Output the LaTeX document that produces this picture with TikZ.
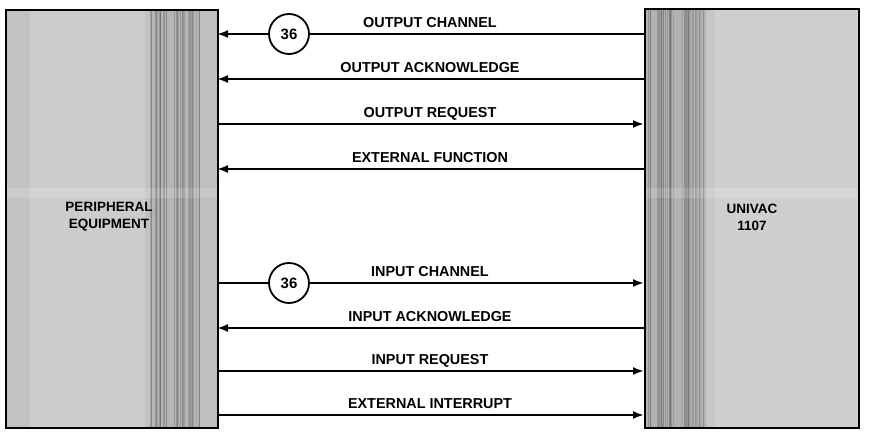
\documentclass[tikz,border=0pt]{standalone}
\usepackage{fontspec}
\setmainfont{Liberation Sans}
\usetikzlibrary{arrows.meta}
\begin{document}
\begin{tikzpicture}[x=1pt,y=-1pt,
  sig/.style={line width=2.6pt,-{Latex[length=11pt,width=8pt]}},
  plain/.style={line width=2.6pt},
  lbl/.style={font=\bfseries\fontsize{14.4}{15}\selectfont,anchor=base},
  tag/.style={circle,draw=black,line width=1.8pt,fill=white,minimum size=40pt,inner sep=0pt,font=\bfseries\fontsize{15}{16}\selectfont},
  boxtext/.style={font=\bfseries\fontsize{13.5}{17}\selectfont,align=center}]
\useasboundingbox (0,0) rectangle (870,438);
\pgfmathsetseed{17}
% left box shading
\fill[gray!48] (5,9) rectangle (217,427);
\fill[gray!40] (30,9) rectangle (145,427);
\fill[gray!58] (150,9) rectangle (200,427);
\fill[gray!50] (200,9) rectangle (217,427);
\foreach \i in {1,...,40}{
  \pgfmathsetmacro{\xx}{150+50*rnd}
  \pgfmathsetmacro{\gg}{50+25*rnd}
  \fill[black!\gg!white,opacity=0.3] (\xx,9) rectangle ++(1,418);
}
\fill[white,opacity=0.15] (5,188) rectangle (217,198);
% right box shading
\fill[gray!44] (644,8) rectangle (858,427);
\fill[gray!60] (646,8) rectangle (706,427);
\fill[gray!38] (715,8) rectangle (858,427);
\foreach \i in {1,...,40}{
  \pgfmathsetmacro{\xx}{646+60*rnd}
  \pgfmathsetmacro{\gg}{50+25*rnd}
  \fill[black!\gg!white,opacity=0.3] (\xx,8) rectangle ++(1,419);
}
\fill[white,opacity=0.15] (644,188) rectangle (858,198);
\node[draw=black,line width=2pt,minimum width=212pt,minimum height=418pt,inner sep=0pt,anchor=north west] (pe) at (5,9) {};
\node[draw=black,line width=2pt,minimum width=214pt,minimum height=419pt,inner sep=0pt,anchor=north west] (uv) at (644,8) {};
\node[boxtext] (pet) at (109,217) {PERIPHERAL\\EQUIPMENT};
\node[boxtext] (uvt) at (752,217) {UNIVAC\\1107};
% coordinates on box edges
\foreach \n/\y in {a/34,b/79,c/124,d/169,e/283,f/328,g/371,h/415}{
  \coordinate (L\n) at (217,\y);
  \coordinate (R\n) at (644,\y);
}
\node[tag] (t1) at (289,34) {36};
\node[tag] (t2) at (289,283) {36};
\draw[plain] (Ra) -- (t1);
\draw[sig] (t1) -- (La);
\draw[sig] (Rb) -- (Lb);
\draw[sig] (Lc) -- (Rc);
\draw[sig] (Rd) -- (Ld);
\draw[plain] (Le) -- (t2);
\draw[sig] (t2) -- (Re);
\draw[sig] (Rf) -- (Lf);
\draw[sig] (Lg) -- (Rg);
\draw[sig] (Lh) -- (Rh);
% labels
\node[lbl] at (430,27.5) {OUTPUT CHANNEL};
\node[lbl] at (430,72.5) {OUTPUT ACKNOWLEDGE};
\node[lbl] at (430,117.5) {OUTPUT REQUEST};
\node[lbl] at (430,162.5) {EXTERNAL FUNCTION};
\node[lbl] at (430,276.5) {INPUT CHANNEL};
\node[lbl] at (430,321.5) {INPUT ACKNOWLEDGE};
\node[lbl] at (430,364.5) {INPUT REQUEST};
\node[lbl] at (430,408.5) {EXTERNAL INTERRUPT};
\end{tikzpicture}
\end{document}
